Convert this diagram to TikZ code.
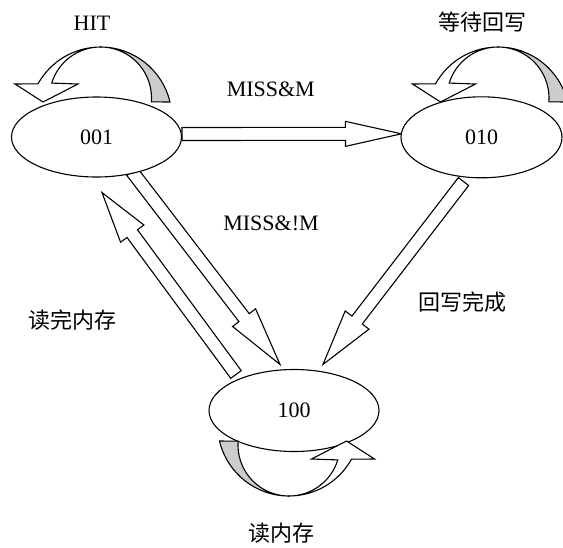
\documentclass[tikz,border=0pt]{standalone}
\usepackage{fontspec}
\setmainfont{Liberation Serif}
\newfontfamily\cjk{Noto Sans CJK SC}
\usetikzlibrary{calc,shapes.geometric,backgrounds}
\definecolor{ribbonback}{RGB}{204,204,204}

\tikzset{
  edgeline/.style={draw=black, line width=1.1pt, line join=miter},
  stbox/.style={ellipse, edgeline, fill=white, inner sep=0pt,
    font=\fontsize{22}{26}\selectfont},
  lbl/.style={inner sep=0pt, font=\fontsize{22}{26}\selectfont},
  cjklbl/.style={inner sep=0pt, font=\fontsize{22}{26}\selectfont\cjk},
  % curled ribbon arrow: grey back half on the right, white front half with head on the left
  selfloop/.pic={
    \filldraw[edgeline, fill=ribbonback]
      (0,0) arc[start angle=90, end angle=13.3, radius=71.4pt]
      -- (50.85,-54.9) arc[start angle=-4.4, end angle=90, radius=51pt] -- cycle;
    \filldraw[edgeline, fill=white]
      (0,0) arc[start angle=90, end angle=163, radius=51pt]
      -- (-22.5,-37) -- (-57.5,-55) -- (-85.5,-37) -- (-62.45,-36.8)
      arc[start angle=151, end angle=90, radius=71.4pt] -- cycle;
  }
}

% hollow block arrow: tail, tip, half shaft width, half head width, head length
\newcommand\blockarrow[5]{%
  \coordinate (ba-base) at ($(#2)!#5!(#1)$);
  \filldraw[edgeline, fill=white]
    ($(#1)!#3!90:(#2)$) -- ($(ba-base)!#3!90:(#2)$) -- ($(ba-base)!#4!90:(#2)$)
    -- (#2) -- ($(ba-base)!#4!-90:(#2)$) -- ($(ba-base)!#3!-90:(#2)$)
    -- ($(#1)!#3!-90:(#2)$) -- cycle;
}

\begin{document}
\begin{tikzpicture}[x=1pt,y=1pt]
  \useasboundingbox (0,0) rectangle (563,-547);
  \clip (0,0) rectangle (563,-547);

  % states
  \node[stbox, minimum width=170pt, minimum height=80pt] (n001) at (96.5,-137) {001};
  \node[stbox, minimum width=161pt, minimum height=81pt] (n010) at (481.5,-137.3) {010};
  \node[stbox, minimum width=170pt, minimum height=82pt] (n100) at (294,-410.5) {100};

  % end points of the transitions
  \coordinate (a1s) at ($(n001.east)+(0,3)$);
  \coordinate (a1e) at ($(n010.west)+(1,3.5)$);
  \coordinate (a2s) at ($(n001.south)+(35.5,6)$);
  \coordinate (a2e) at ($(n100.north)+(-14,4.5)$);
  \coordinate (a3s) at ($(n100.north)+(-58,-5.5)$);
  \coordinate (a3e) at ($(n001.south)+(5.5,-15)$);
  \coordinate (a4s) at ($(n010.south)+(-18,-3.2)$);
  \coordinate (a4e) at ($(n100.north)+(29,4.5)$);

  % transitions sit behind the white-filled states
  \begin{pgfonlayer}{background}
    \blockarrow{a1s}{a1e}{6.5pt}{12.5pt}{56pt}
    \blockarrow{a2s}{a2e}{6.5pt}{14.5pt}{59pt}
    \blockarrow{a3s}{a3e}{6.5pt}{14.5pt}{51pt}
    \blockarrow{a4s}{a4e}{6.5pt}{15pt}{56pt}
  \end{pgfonlayer}

  % self loops
  \pic at (100.5,-47) {selfloop};
  \pic at (498,-47) {selfloop};
  \pic[rotate=180] at (289,-496) {selfloop};

  % labels
  \node[lbl] (lhit) at (92,-22.8) {HIT};
  \node[cjklbl] (lwait) at (482.5,-21.7) {等待回写};
  \node[lbl] (lmm) at (270.8,-88.8) {MISS\&M};
  \node[lbl] (lmnm) at (271,-223) {MISS\&!M};
  \node[cjklbl] (lwb) at (462.5,-301.7) {回写完成};
  \node[cjklbl] (lrd) at (72.5,-320) {读完内存};
  \node[cjklbl] (lrm) at (281,-533) {读内存};
\end{tikzpicture}
\end{document}
